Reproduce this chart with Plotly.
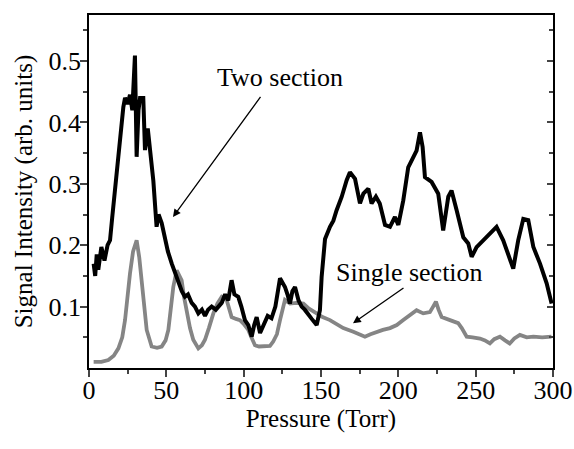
import plotly.graph_objects as go

# Two section (black) curve
two_x = [3, 4, 5, 6, 8, 10, 12, 13.6, 15, 16.8, 19, 21, 22.2, 23.3, 25, 26.5, 28, 29.7, 30.8, 32, 33,
         35.1, 36.2, 38, 39.4, 41.6, 43.7, 45, 47, 49.1, 51, 53.5, 55.5, 57.7, 60, 62, 64, 66.4, 68.5,
         70.7, 73, 75, 77, 79.3, 82, 85.8, 88, 90, 92.2, 94, 96.5, 98.5, 100.8, 103, 105.2, 106.8, 108.4,
         110.6, 113, 115.5, 118, 120.5, 123.5, 125, 126.7, 128.3, 129.9, 131.5, 133.2, 135.5, 137.5,
         139.5, 141.8, 144, 147.2, 149.3, 150.4, 152.6, 155.8, 158, 160.1, 163.4, 166.6, 168.7, 172,
         175.2, 177.4, 180.6, 182.7, 185.5, 188, 191.4, 194.6, 197.8, 200, 203.2, 206.4, 209.7, 211.8,
         214, 215.7, 217.2, 221.5, 225.8, 229, 232.3, 234.4, 237.7, 242, 245.2, 247.4, 250.6, 257,
         263.5, 267.8, 274.3, 277.5, 280.8, 284, 287.3, 291.6, 295.9, 299.1]
two_y = [0.17, 0.15, 0.185, 0.16, 0.197, 0.175, 0.2, 0.208, 0.245, 0.29, 0.355, 0.39, 0.425, 0.44, 0.43,
         0.445, 0.42, 0.509, 0.344, 0.42, 0.44, 0.44, 0.355, 0.39, 0.36, 0.305, 0.23, 0.25, 0.236, 0.208,
         0.19, 0.17, 0.155, 0.143, 0.125, 0.116, 0.12, 0.106, 0.1, 0.089, 0.095, 0.085, 0.095, 0.1, 0.095,
         0.106, 0.12, 0.11, 0.143, 0.12, 0.116, 0.1, 0.078, 0.07, 0.051, 0.07, 0.083, 0.057, 0.07, 0.085,
         0.081, 0.1, 0.146, 0.14, 0.132, 0.12, 0.105, 0.125, 0.132, 0.11, 0.1, 0.095, 0.086, 0.08, 0.07,
         0.094, 0.148, 0.21, 0.23, 0.24, 0.257, 0.279, 0.306, 0.319, 0.308, 0.268, 0.284, 0.292, 0.268,
         0.279, 0.268, 0.233, 0.23, 0.246, 0.233, 0.273, 0.327, 0.346, 0.354, 0.384, 0.36, 0.311, 0.303,
         0.284, 0.224, 0.279, 0.289, 0.257, 0.213, 0.203, 0.181, 0.197, 0.213, 0.23, 0.208, 0.162, 0.208,
         0.243, 0.241, 0.197, 0.17, 0.138, 0.105]

# Single section (gray) curve
one_x = [3, 8, 12.5, 16, 19, 21.5, 23.3, 25, 26.5, 28.5, 30.8, 32.5, 34.1, 35.7, 37.3, 40.5, 44, 47, 49.5,
         51.3, 53, 54.5, 56.7, 59.9, 61.5, 63.2, 65.3, 67.4, 70.7, 73, 75, 77.5, 80.4, 83, 85.8, 89, 92.2,
         95, 97.6, 100, 103, 105, 107.3, 110, 113.8, 117, 119.1, 121.5, 123.5, 125, 126.7, 130, 134, 138.6,
         142, 147.2, 151, 155.8, 160, 164.4, 170.9, 174, 178.4, 182, 186, 190, 194.6, 199, 203.2, 207,
         211.8, 216.1, 220.4, 222.5, 224.3, 226, 228, 233.4, 238.7, 241, 244.2, 248, 252.8, 256, 259.2,
         262, 265.7, 269, 272, 275, 278.6, 283, 287.3, 293, 299]
one_y = [0.01, 0.01, 0.013, 0.02, 0.032, 0.05, 0.078, 0.12, 0.154, 0.19, 0.208, 0.18, 0.143, 0.1, 0.062,
         0.035, 0.033, 0.035, 0.045, 0.062, 0.1, 0.132, 0.159, 0.143, 0.115, 0.089, 0.065, 0.046, 0.032,
         0.037, 0.046, 0.065, 0.089, 0.105, 0.116, 0.111, 0.083, 0.08, 0.078, 0.072, 0.062, 0.05, 0.037,
         0.035, 0.035, 0.036, 0.043, 0.055, 0.078, 0.095, 0.111, 0.105, 0.106, 0.105, 0.097, 0.089, 0.083,
         0.078, 0.072, 0.065, 0.059, 0.056, 0.051, 0.055, 0.059, 0.062, 0.065, 0.07, 0.078, 0.085, 0.094,
         0.089, 0.091, 0.1, 0.108, 0.095, 0.083, 0.078, 0.073, 0.065, 0.051, 0.05, 0.048, 0.045, 0.04,
         0.047, 0.051, 0.045, 0.04, 0.048, 0.054, 0.05, 0.051, 0.05, 0.051]

x_ticks = [0, 50, 100, 150, 200, 250, 300]
x_minor = [25, 75, 125, 175, 225, 275]
y_ticks = [0.1, 0.2, 0.3, 0.4, 0.5]
y_ticktext = ["0.1", "0.2", "0.3", "0.4", "0.5"]
y_minor = [0.05, 0.15, 0.25, 0.35, 0.45, 0.55]

FONT = "Liberation Serif"

fig = go.Figure()
fig.add_trace(go.Scatter(x=one_x, y=one_y, mode="lines",
                         line=dict(color="#858585", width=3.8), showlegend=False))
fig.add_trace(go.Scatter(x=two_x, y=two_y, mode="lines",
                         line=dict(color="#000000", width=4), showlegend=False))
# invisible trace to carry right-side tick axis
fig.add_trace(go.Scatter(x=[0], y=[0], yaxis="y2", mode="markers",
                         marker=dict(opacity=0), showlegend=False, hoverinfo="skip"))

fig.update_layout(
    width=574, height=449,
    margin=dict(l=89, r=21, t=15, b=81),
    paper_bgcolor="white", plot_bgcolor="white",
    font=dict(family=FONT, color="black", size=26),
    xaxis=dict(range=[0, 300], tickvals=x_ticks, ticks="outside", ticklen=7, tickwidth=1.5,
               showline=True, linecolor="black", linewidth=1.5, mirror=True,
               showgrid=False, zeroline=False, automargin=False, ticklabelstandoff=-9,
               minor=dict(tickvals=x_minor, ticks="outside", ticklen=4, tickwidth=1.5),
               title=dict(text="Pressure (Torr)", font=dict(family=FONT, size=25), standoff=2),
               tickfont=dict(family=FONT, size=26)),
    yaxis=dict(range=[0, 0.575], tickvals=y_ticks, ticktext=y_ticktext, ticks="outside",
               ticklen=7, tickwidth=1.5,
               showline=True, linecolor="black", linewidth=1.5, mirror=True,
               showgrid=False, zeroline=False, automargin=False, ticklabelstandoff=-6,
               minor=dict(tickvals=y_minor, ticks="outside", ticklen=4, tickwidth=1.5),
               title=dict(text="Signal Intensity (arb. units)", font=dict(family=FONT, size=25), standoff=9),
               tickfont=dict(family=FONT, size=26)),
    yaxis2=dict(range=[0, 0.575], overlaying="y", side="right", tickvals=y_ticks,
                showticklabels=False, ticks="inside", ticklen=6, tickwidth=1.5,
                showgrid=False, zeroline=False, showline=False, automargin=False,
                minor=dict(tickvals=y_minor, ticks="inside", ticklen=4, tickwidth=1.5)),
)

fig.add_annotation(x=123.5, y=0.473, text="Two section", showarrow=False,
                   font=dict(family=FONT, size=26, color="black"))
fig.add_annotation(x=54.3, y=0.246, ax=111.6, ay=0.444, axref="x", ayref="y",
                   text="", showarrow=True, arrowhead=2, arrowsize=1.2, arrowwidth=1.3,
                   arrowcolor="black")
fig.add_annotation(x=207.5, y=0.156, text="Single section", showarrow=False,
                   font=dict(family=FONT, size=26, color="black"))
fig.add_annotation(x=170.7, y=0.073, ax=204.3, ay=0.132, axref="x", ayref="y",
                   text="", showarrow=True, arrowhead=2, arrowsize=1.2, arrowwidth=1.3,
                   arrowcolor="black")

fig.write_html("out.html", config={"displayModeBar": False},
               post_script="document.body.style.margin='0';")
